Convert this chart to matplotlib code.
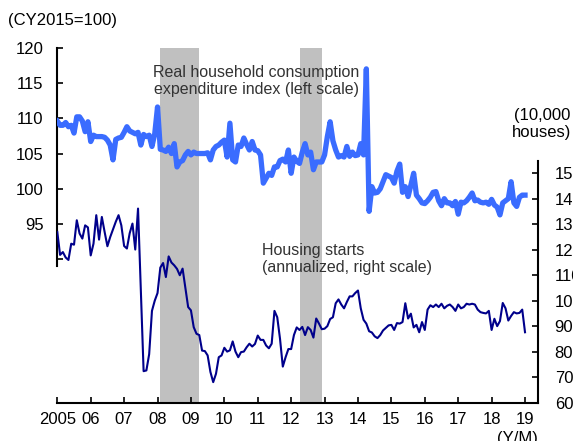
import numpy as np
import matplotlib
matplotlib.use("Agg")
import matplotlib.pyplot as plt

plt.rcParams['font.family'] = ['Liberation Sans', 'DejaVu Sans']

# monthly data, Jan 2005 - Jan 2019
start_year = 2005

consumption = [
    109.6, 109.0, 109.0, 109.4, 108.8, 109.0, 107.9, 110.2, 110.2, 109.6, 108.1, 109.5,
    106.7, 107.6, 107.4, 107.4, 107.4, 107.3, 106.9, 106.2, 104.1, 107.0, 107.2, 107.3,
    108.0, 108.8, 108.2, 108.0, 107.8, 108.0, 106.2, 107.7, 107.4, 107.6, 106.0, 107.8,
    111.6, 105.6, 105.5, 105.3, 105.9, 105.0, 106.4, 103.1, 103.8, 104.0, 104.8, 105.3,
    104.8, 105.2, 105.0, 105.0, 105.0, 105.0, 105.1, 104.1, 105.5, 106.0, 106.2, 106.6,
    106.9, 104.5, 109.3, 104.1, 103.8, 106.2, 106.0, 107.2, 106.3, 105.5, 106.7, 105.5,
    105.4, 104.8, 100.8, 101.5, 102.2, 101.9, 103.1, 103.1, 104.0, 104.2, 103.8, 105.5,
    102.2, 104.5, 103.9, 103.6, 105.2, 106.4, 104.8, 105.2, 102.7, 103.8, 103.8, 103.8,
    104.8, 107.4, 109.5, 106.8, 105.5, 104.5, 104.7, 104.5, 106.0, 104.6, 105.2, 104.7,
    104.8, 106.4, 104.8, 117.0, 96.8, 100.3, 99.4, 99.5, 100.0, 101.0, 102.0, 101.8,
    101.6, 100.8, 102.5, 103.5, 99.5, 100.3, 98.9, 100.5, 102.2, 99.1, 98.6, 98.0,
    97.9, 98.3, 98.8, 99.5, 99.6, 98.3, 97.6, 98.6, 98.0, 98.0, 97.6, 98.2,
    96.4, 98.1, 98.0, 98.3, 98.8, 99.4, 98.3, 98.4, 98.1, 98.0, 98.1, 97.8,
    98.5, 97.7, 97.4, 96.3, 98.0, 98.3, 98.6, 101.0, 98.0, 97.5, 98.8, 99.1,
    99.1,
]

housing = [
    127.0, 118.0, 119.1, 117.0, 116.0, 122.4, 122.0, 131.6, 126.4, 124.4, 129.6, 128.8,
    117.8, 122.4, 133.6, 124.0, 132.9, 127.0, 121.4, 125.0, 128.0, 131.0, 133.6, 129.6,
    121.5, 120.5, 126.5, 130.3, 120.1, 136.2, 104.0, 72.3, 72.6, 79.0, 96.0, 100.0,
    103.0, 113.0, 114.8, 109.3, 117.4, 115.0, 113.9, 112.5, 110.0, 112.6, 105.0, 97.5,
    96.2, 89.6, 87.0, 86.5, 80.4, 80.2, 78.5, 72.0, 68.0, 71.3, 77.8, 78.5,
    81.5, 80.0, 80.5, 84.0, 80.0, 77.8, 79.8, 80.0, 81.7, 83.1, 82.0, 83.0,
    86.3, 84.6, 84.6, 82.4, 81.3, 83.1, 96.0, 93.5, 85.0, 74.1, 77.8, 81.0,
    81.0, 86.5, 89.5, 88.5, 89.7, 86.5, 89.6, 88.5, 85.5, 93.0, 91.0, 88.8,
    89.0, 90.0, 92.8, 93.5, 99.0, 100.5, 98.5, 97.0, 99.5, 101.7, 101.7, 103.0,
    104.0, 97.0, 92.5, 91.0, 88.0, 87.5, 86.0, 85.3, 86.5, 88.3, 89.3, 90.3,
    90.5, 88.5, 91.2, 91.0, 91.6, 99.0, 93.0, 94.9, 89.5, 90.5, 87.6, 91.6,
    88.5, 96.5, 98.2, 97.5, 98.5, 97.5, 98.8, 97.0, 98.0, 98.5, 97.5, 96.0,
    98.5, 97.0, 97.5, 98.8, 98.5, 98.8, 98.5, 96.5, 95.5, 95.2, 95.0, 96.0,
    88.5, 92.9, 90.0, 92.0, 99.1, 97.0, 92.2, 94.0, 95.5, 95.0, 95.2, 96.5,
    87.6,
]

# recession periods (year fractions)
recessions = [(2008 + 1/12, 2009 + 3/12), (2012 + 3/12, 2012 + 11/12)]

years = list(range(2005, 2020))
year_labels = ["2005"] + [f"{y % 100:02d}" for y in years[1:]]

t = start_year + np.arange(len(consumption)) / 12

fig = plt.figure(figsize=(5.73, 4.41), dpi=100)
ax = fig.add_axes([0.1, 0.0873, 0.839, 0.8045])
ax2 = ax.twinx()

for a, b in recessions:
    ax.axvspan(a, b, color="#c0c0c0", lw=0, zorder=0)

ax.plot(t, consumption, color="#3a6cff", lw=3.8, zorder=3, solid_joinstyle="round")
ax2.plot(t, housing, color="#00008b", lw=1.5, zorder=3)

ax.set_xlim(2005, 2019.39)
ax.set_ylim(69.7, 120)
ax2.set_ylim(60, 199.4)

# left axis: only upper part
ax.spines["left"].set_bounds(89, 120)
ax.set_yticks(range(90, 121, 5))
ax.set_yticklabels([""] + [str(v) for v in range(95, 121, 5)])
ax2.spines["right"].set_bounds(60, 155)
ax2.set_yticks(range(60, 151, 10))

for s in ["top", "right"]:
    ax.spines[s].set_visible(False)
for s in ["top", "left", "bottom"]:
    ax2.spines[s].set_visible(False)
for a in (ax, ax2):
    for s in a.spines.values():
        s.set_linewidth(1.5)

ax.set_xticks(years)
ax.set_xticklabels(year_labels)
ax.tick_params(axis="x", direction="in", length=4, width=1.2, labelsize=12, pad=7)
ax.tick_params(axis="y", direction="in", length=4, width=1.2, labelsize=12, pad=10)
ax2.tick_params(axis="y", direction="in", length=4, width=1.2, labelsize=12, pad=12)

fig.text(8 / 573, 1 - 20 / 441, "(CY2015=100)", fontsize=12, va="center", ha="left")
fig.text(256 / 573, 1 - 81 / 441, "Real household consumption\nexpenditure index (left scale)",
         fontsize=11.5, ha="center", va="center", multialignment="center", color="#333333")
fig.text(262 / 573, 1 - 259 / 441, "Housing starts\n(annualized, right scale)",
         fontsize=11.5, ha="left", va="center", color="#333333")
fig.text(542 / 573, 1 - 124 / 441, "(10,000\nhouses)", fontsize=12, ha="center", va="center",
         multialignment="center")
fig.text(517 / 573, 1 - 438 / 441, "(Y/M)", fontsize=12, ha="center", va="center")

fig.savefig("out.png", dpi=100)
